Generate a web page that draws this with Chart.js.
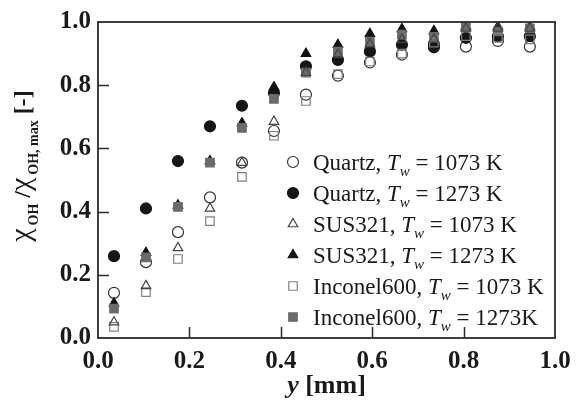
<!DOCTYPE html>
<html>
<head>
<meta charset="utf-8">
<script src="https://cdn.jsdelivr.net/npm/chart.js@4/dist/chart.umd.min.js"></script>
<style>
  body { margin: 0; background: #fff; }
</style>
</head>
<body>
<canvas id="chiChart" width="582" height="401"></canvas>
<script>
// distance from wall y [mm]
const distance = [0.035, 0.105, 0.175, 0.245, 0.315, 0.385, 0.455, 0.525, 0.595, 0.665, 0.735, 0.805, 0.875, 0.945];

// normalized OH mole fraction
const quartz1073    = [0.143, 0.240, 0.335, 0.445, 0.555, 0.655, 0.770, 0.830, 0.872, 0.897, 0.930, 0.922, 0.940, 0.922];
const quartz1273    = [0.259, 0.410, 0.560, 0.670, 0.735, 0.775, 0.860, 0.880, 0.907, 0.928, 0.920, 0.950, 0.955, 0.955];
const sus1073       = [0.050, 0.165, 0.285, 0.410, 0.555, 0.685, 0.840, 0.897, 0.930, 0.944, 0.945, 0.980, 0.980, 0.980];
const sus1273       = [0.110, 0.270, 0.420, 0.560, 0.680, 0.794, 0.900, 0.928, 0.963, 0.978, 0.972, 0.985, 0.985, 0.985];
const inconel1073   = [0.035, 0.145, 0.250, 0.370, 0.510, 0.640, 0.750, 0.835, 0.875, 0.900, 0.935, 0.955, 0.950, 0.945];
const inconel1273   = [0.093, 0.255, 0.415, 0.555, 0.665, 0.757, 0.840, 0.906, 0.938, 0.960, 0.953, 0.985, 0.970, 0.980];

const tickValues = [0.0, 0.2, 0.4, 0.6, 0.8, 1.0];
const materials = ['Quartz', 'Quartz', 'SUS321', 'SUS321', 'Inconel600', 'Inconel600'];
const wallTemps = ['1073 K', '1273 K', '1073 K', '1273 K', '1073 K', '1273K'];

const SERIF = "'Liberation Serif', 'Times New Roman', serif";

function points(vals) {
  return distance.map((x, i) => ({ x: x, y: vals[i] }));
}

const styles = [
  { data: quartz1073,  shape: 'circle',   r: 5.5, fill: 'rgba(0,0,0,0)', line: '#333333', order: 6 },
  { data: quartz1273,  shape: 'circle',   r: 5.5, fill: '#161616',       line: '#161616', order: 5 },
  { data: sus1073,     shape: 'triangle', r: 5.5, fill: 'rgba(0,0,0,0)', line: '#444444', order: 1 },
  { data: sus1273,     shape: 'triangle', r: 5.5, fill: '#111111',       line: '#111111', order: 4 },
  { data: inconel1073, shape: 'rect',     r: 6,   fill: 'rgba(0,0,0,0)', line: '#808080', order: 2 },
  { data: inconel1273, shape: 'rect',     r: 6,   fill: '#6b6b6b',       line: '#6b6b6b', order: 3 }
];

const datasets = styles.map((s, i) => ({
  label: materials[i] + ', Tw = ' + wallTemps[i],
  data: points(s.data),
  pointStyle: s.shape,
  pointRadius: s.r,
  pointHoverRadius: s.r,
  pointBackgroundColor: s.fill,
  pointBorderColor: s.line,
  pointBorderWidth: 1.2,
  showLine: false,
  order: s.order
}));

function drawMarker(ctx, s, x, y) {
  ctx.save();
  ctx.fillStyle = s.fill;
  ctx.strokeStyle = s.line;
  ctx.lineWidth = 1.2;
  ctx.beginPath();
  if (s.shape === 'circle') {
    ctx.arc(x, y, s.r, 0, Math.PI * 2);
  } else if (s.shape === 'triangle') {
    const side = s.r * Math.sqrt(3);
    const h = side * Math.sqrt(3) / 2;
    ctx.moveTo(x, y - 2 * h / 3);
    ctx.lineTo(x + side / 2, y + h / 3);
    ctx.lineTo(x - side / 2, y + h / 3);
    ctx.closePath();
  } else {
    const half = s.r / Math.SQRT2;
    ctx.rect(x - half, y - half, 2 * half, 2 * half);
  }
  ctx.fill();
  ctx.stroke();
  ctx.restore();
}

// draw a run of text pieces with their own fonts and baseline offsets
function drawRich(ctx, x, y, parts) {
  parts.forEach(p => {
    ctx.font = p.font;
    ctx.fillText(p.t, x, y + (p.dy || 0));
    x += ctx.measureText(p.t).width + (p.gap || 0);
  });
}

function richWidth(ctx, parts) {
  let w = 0;
  parts.forEach(p => {
    ctx.font = p.font;
    w += ctx.measureText(p.t).width + (p.gap || 0);
  });
  return w;
}

const decorations = {
  id: 'decorations',
  afterDraw(chart) {
    const ctx = chart.ctx;
    const a = chart.chartArea;
    const xs = chart.scales.x, ys = chart.scales.y;
    ctx.save();

    // frame
    ctx.strokeStyle = '#2b2b2b';
    ctx.lineWidth = 1.8;
    ctx.strokeRect(a.left, a.top, a.right - a.left, a.bottom - a.top);

    // inward ticks, left and bottom only
    ctx.lineWidth = 1.5;
    ctx.beginPath();
    tickValues.forEach(v => {
      if (v <= 0 || v >= 1) return;
      const py = Math.round(ys.getPixelForValue(v)) + 0.5;
      ctx.moveTo(a.left, py);
      ctx.lineTo(a.left + 11, py);
      const px = Math.round(xs.getPixelForValue(v)) + 0.5;
      ctx.moveTo(px, a.bottom);
      ctx.lineTo(px, a.bottom - 11);
    });
    ctx.stroke();

    ctx.fillStyle = '#1a1a1a';
    ctx.textBaseline = 'alphabetic';
    ctx.textAlign = 'left';

    // legend
    const lx = a.left + 195;
    const ly = a.top + 140;
    styles.forEach((s, i) => {
      const y = ly + i * 31;
      drawMarker(ctx, s, lx, y);
      drawRich(ctx, lx + 20, y + 8, [
        { t: materials[i] + ', ', font: '23px ' + SERIF },
        { t: 'T', font: 'italic 23px ' + SERIF },
        { t: 'w', font: 'italic 15px ' + SERIF, dy: 6 },
        { t: ' = ' + wallTemps[i], font: '23px ' + SERIF }
      ]);
    });

    // x axis title
    const xParts = [
      { t: 'y', font: 'italic bold 26px ' + SERIF },
      { t: ' [mm]', font: 'bold 26px ' + SERIF }
    ];
    const xw = richWidth(ctx, xParts);
    drawRich(ctx, (a.left + a.right) / 2 - xw / 2, 393, xParts);

    // y axis title, rotated
    const yParts = [
      { t: '\u03C7', font: '30px ' + SERIF, gap: 3 },
      { t: 'OH', font: 'bold 14px ' + SERIF, dy: 8 },
      { t: ' /', font: 'bold 24px ' + SERIF },
      { t: '\u03C7', font: '30px ' + SERIF, gap: 3 },
      { t: 'OH, max', font: 'bold 14px ' + SERIF, dy: 8 },
      { t: ' [-]', font: 'bold 24px ' + SERIF }
    ];
    const yw = richWidth(ctx, yParts);
    ctx.translate(26, 166);
    ctx.rotate(-Math.PI / 2);
    drawRich(ctx, -yw / 2, 4, yParts);

    ctx.restore();
  }
};

const ctx = document.getElementById('chiChart').getContext('2d');
const chiChart = new Chart(ctx, {
  type: 'scatter',
  data: { datasets: datasets },
  options: {
    responsive: false,
    animation: false,
    devicePixelRatio: 1,
    layout: { padding: { top: 17, right: 27, left: 0, bottom: 0 } },
    plugins: {
      legend: { display: false },
      tooltip: { enabled: false }
    },
    scales: {
      x: {
        type: 'linear',
        min: 0,
        max: 1,
        afterBuildTicks: s => { s.ticks = tickValues.map(v => ({ value: v })); },
        afterFit: s => { s.height = 63; },
        grid: { display: false, drawTicks: false },
        border: { display: false },
        ticks: {
          padding: 9,
          maxRotation: 0,
          color: '#1a1a1a',
          font: { family: SERIF, size: 25, weight: 'bold' },
          callback: v => v.toFixed(1)
        }
      },
      y: {
        type: 'linear',
        min: 0,
        max: 1,
        afterBuildTicks: s => { s.ticks = tickValues.map(v => ({ value: v })); },
        afterFit: s => { s.width = 98; },
        grid: { display: false, drawTicks: false },
        border: { display: false },
        ticks: {
          padding: 7,
          color: '#1a1a1a',
          font: { family: SERIF, size: 25, weight: 'bold' },
          callback: v => v.toFixed(1)
        }
      }
    }
  },
  plugins: [decorations]
});
</script>
</body>
</html>
